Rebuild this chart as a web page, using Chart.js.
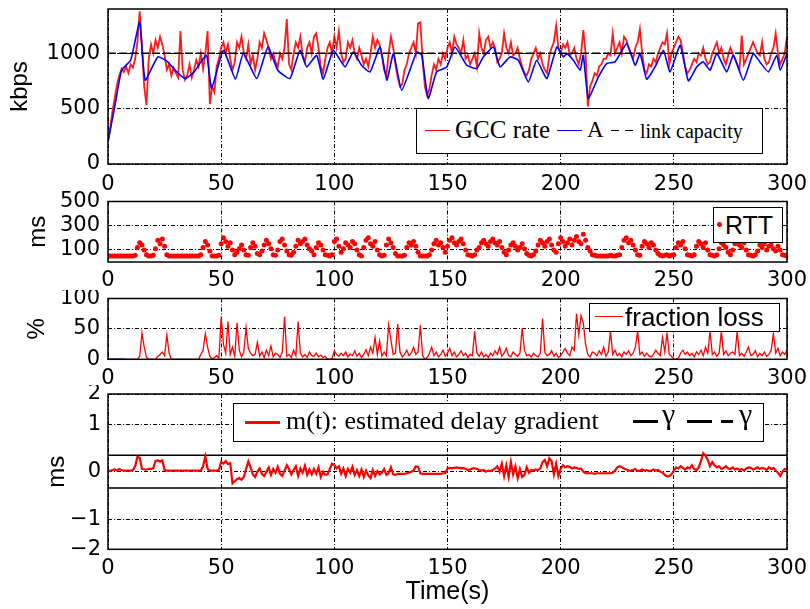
<!DOCTYPE html>
<html>
<head>
<meta charset="utf-8">
<script src="https://cdn.jsdelivr.net/npm/chart.js"></script>
<style>
  body { margin: 0; background: #fff; }
  #fig { position: relative; width: 810px; height: 609px; overflow: hidden; background: #fff; }
  #fig canvas { position: absolute; left: 0; }
  .leg { position: absolute; background: #fff; border: 1.5px solid #000; box-sizing: border-box; }
  .item { position: absolute; white-space: nowrap; line-height: 1; color: #000; }
  .serif { font-family: "Liberation Serif", "Times New Roman", serif; }
  .sans { font-family: "Liberation Sans", Arial, sans-serif; }
  .ln { position: absolute; height: 0; }
</style>
</head>
<body>
<div id="fig">
  <canvas id="c1" width="810" height="200" style="top:0px"></canvas>
  <canvas id="c2" width="810" height="105" style="top:190px"></canvas>
  <canvas id="c3" width="810" height="105" style="top:290px"></canvas>
  <canvas id="c4" width="810" height="224" style="top:385px"></canvas>

  <!-- legend, panel 1 -->
  <div class="leg" style="left:416px;top:108px;width:347px;height:46px"></div>
  <div class="ln" style="left:425px;top:130px;width:25px;border-top:1.5px solid #f00"></div>
  <div class="item serif" style="left:455px;top:116.6px;font-size:25px">GCC rate</div>
  <div class="ln" style="left:557px;top:130px;width:25px;border-top:1.5px solid #00f"></div>
  <div class="item serif" style="left:587px;top:117.7px;font-size:23px">A</div>
  <div class="ln" style="left:611px;top:130px;width:8px;border-top:1.5px solid #000"></div>
  <div class="ln" style="left:625px;top:130px;width:8px;border-top:1.5px solid #000"></div>
  <div class="item serif" style="left:640px;top:121px;font-size:20px">link capacity</div>

  <!-- legend, panel 2 -->
  <div class="leg" style="left:713px;top:207px;width:70px;height:36px"></div>
  <div style="position:absolute;left:716.5px;top:221.5px;width:5px;height:5px;border-radius:50%;background:#f00"></div>
  <div class="item sans" style="left:725px;top:213px;font-size:25px">RTT</div>

  <!-- legend, panel 3 -->
  <div class="leg" style="left:589px;top:303px;width:191px;height:29px"></div>
  <div class="ln" style="left:595px;top:316px;width:28px;border-top:1.5px solid #f00"></div>
  <div class="item sans" style="left:625px;top:304px;font-size:26px">fraction loss</div>

  <!-- legend, panel 4 -->
  <div class="leg" style="left:233px;top:403px;width:531px;height:39px"></div>
  <div class="ln" style="left:245px;top:421px;width:35px;border-top:3px solid #f00"></div>
  <div class="item serif" style="left:286px;top:408px;font-size:26px">m(t): estimated delay gradient</div>
  <div class="ln" style="left:633px;top:420px;width:25px;border-top:3px solid #000"></div>
  <div class="item serif" style="left:662px;top:399.4px;font-size:30px">γ</div>
  <div class="ln" style="left:687px;top:420px;width:25px;border-top:3px solid #000"></div>
  <div class="ln" style="left:721px;top:420px;width:12px;border-top:3px solid #000"></div>
  <div class="item serif" style="left:739px;top:399.4px;font-size:30px">γ</div>
</div>

<script>
// x axis ticks shared by the four panels
const xTicks = [0, 50, 100, 150, 200, 250, 300];

// panel 1: sending rate (kbps), one GCC sample per second, t = 0..300
const gccRate = [
  200, 330, 480, 600, 720, 800, 860, 830, 880, 820,
  900, 870, 950, 1100, 1380, 1050, 700, 530, 950, 1080,
  1000, 1120, 1050, 1150, 1080, 980, 850, 900, 800, 870,
  820, 780, 1200, 850, 760, 800, 900, 780, 850, 940,
  880, 1000, 860, 1000, 1200, 540, 700, 650, 880, 950,
  1050, 1100, 1000, 1080, 950, 850, 920, 1100, 1050, 1150,
  1000, 950, 1080, 900, 980, 850, 950, 1100, 1050, 1180,
  1120, 1050, 950, 1000, 920, 880, 1000, 950, 1050, 1310,
  900, 850, 1000, 1100, 1050, 1150, 980, 920, 1050, 1100,
  1000, 1150, 1180, 1050, 880, 820, 950, 1050, 1100, 1000,
  1150, 1050, 1200, 1000, 920, 950, 1100, 1050, 1120, 1000,
  950, 1050, 980, 900, 950, 880, 1000, 1150, 1050, 1120,
  1080, 980, 850, 800, 1000, 1150, 1050, 900, 780, 700,
  720, 850, 900, 1000, 1050, 1100, 1000, 1270, 1280, 950,
  700, 620, 680, 800, 900, 850, 950, 900, 1000, 950,
  1050, 1100, 1000, 1150, 1080, 1050, 1000, 1120, 950, 980,
  900, 950, 1000, 880, 1180, 1050, 1000, 1120, 1150, 1050,
  1100, 1050, 920, 950, 1000, 1180, 1050, 1000, 1100, 980,
  1000, 1050, 950, 880, 820, 800, 850, 950, 1000, 1050,
  950, 1000, 900, 850, 820, 980, 1050, 1100, 1250, 1050,
  1000, 1080, 1050, 1100, 980, 1000, 1050, 950, 900, 1000,
  1210, 1000, 520, 700, 750, 820, 800, 880, 900, 950,
  950, 1000, 980, 1180, 1000, 1050, 1100, 1000, 1150, 1120,
  1050, 1000, 950, 1050, 1100, 1220, 1000, 850, 820, 900,
  880, 950, 920, 1000, 1050, 1100, 1080, 1180, 900, 1000,
  1050, 1100, 1150, 1120, 1000, 880, 820, 850, 900, 950,
  920, 1000, 980, 1050, 950, 900, 920, 1000, 1050, 1100,
  1000, 1050, 950, 900, 980, 1050, 1000, 950, 900, 850,
  1160, 900, 950, 1000, 1050, 1100, 1050, 1000, 980, 1100,
  950, 900, 920, 1000, 1050, 1180, 1000, 900, 950, 1000,
  1150
];

// panel 1: A, the rate of the delay based controller (irregular times)
const aTime = [
  0, 3, 6, 10, 14, 16.4, 22, 26, 30, 34, 38, 41, 43.6, 45.8, 51, 56.3, 59.8, 65.7,
  70.7, 75, 80.4, 84.8, 87.8, 92.2, 95.1, 99.6, 104.7, 108.4, 112, 115.8, 120.2,
  123.2, 126.1, 129.8, 136.4, 138.6, 141.5, 145.2, 149.7, 153.3, 158.5, 162.9,
  165.8, 170.3, 173.2, 177.6, 181.3, 185.7, 189.4, 193.9, 198.3, 201.2, 202.7,
  205.6, 208.6, 210, 212.2, 216.7, 220.3, 224, 229.2, 232.9, 235.1, 238, 241.7,
  245.4, 248.3, 252.8, 256.4, 260.1, 263, 266, 269, 273.4, 276.3, 280.7, 285.1,
  288, 291.8, 295.5, 297, 300
];
const aRate = [
  200, 520, 847, 937, 1282, 757, 967, 930, 840, 772, 830, 920, 982, 685, 1027, 766, 1000, 772,
  1057, 847, 772, 1027, 877, 982, 766, 1027, 877, 1012, 892, 832, 1057,
  757, 997, 667, 1012, 982, 592, 832, 877, 1057, 892, 862,
  967, 1057, 877, 967, 937, 742, 937, 772, 1057, 967, 997,
  937, 847, 982, 592, 787, 907, 922, 1087, 892, 997, 766, 877,
  1027, 832, 1072, 751, 877, 922, 847, 997, 832, 982, 757, 997,
  922, 832, 982, 847, 997
];

// panel 1: link capacity
const capTime = [0, 300];
const capRate = [1000, 1000];

// panel 2: RTT (ms), one sample per second
const rtt = [
  50, 50, 50, 50, 50, 50, 50, 50, 50, 50,
  50, 50, 55, 120, 160, 140, 100, 60, 50, 50,
  55, 110, 180, 150, 190, 130, 60, 50, 50, 50,
  50, 50, 50, 50, 50, 50, 50, 50, 50, 50,
  50, 60, 120, 170, 140, 90, 50, 50, 50, 55,
  150, 200, 170, 130, 160, 100, 60, 80, 110, 140,
  100, 60, 55, 120, 160, 130, 70, 60, 90, 140,
  180, 150, 110, 60, 55, 100, 170, 190, 140, 90,
  60, 55, 80, 130, 180, 150, 170, 190, 140, 110,
  90, 60, 120, 160, 140, 100, 60, 55, 50, 60,
  170, 190, 130, 80, 110, 160, 140, 120, 170, 150,
  100, 60, 50, 120, 180, 200, 150, 130, 170, 100,
  60, 50, 55, 140, 190, 160, 120, 70, 50, 50,
  50, 55, 120, 160, 140, 170, 130, 80, 50, 50,
  50, 50, 60, 100, 150, 180, 140, 160, 120, 80,
  130, 180, 200, 160, 140, 170, 190, 150, 100, 60,
  55, 50, 60, 100, 120, 160, 180, 150, 130, 170,
  190, 160, 140, 170, 120, 80, 60, 100, 140, 160,
  130, 100, 120, 150, 110, 70, 55, 50, 60, 90,
  140, 180, 160, 130, 170, 190, 140, 100, 80, 150,
  200, 170, 130, 160, 190, 140, 180, 210, 170, 150,
  230, 180, 120, 90, 60, 55, 50, 50, 50, 50,
  50, 50, 55, 50, 50, 55, 60, 120, 180, 200,
  160, 180, 140, 100, 60, 55, 130, 170, 150, 120,
  160, 140, 100, 70, 55, 50, 55, 60, 50, 55,
  60, 120, 160, 140, 170, 110, 60, 55, 50, 60,
  130, 170, 150, 120, 160, 100, 60, 55, 50, 60,
  110, 160, 140, 120, 80, 60, 100, 150, 170, 140,
  120, 160, 100, 60, 55, 50, 60, 90, 140, 120,
  150, 100, 130, 140, 110, 90, 130, 100, 60, 55,
  50
];

// panel 3: fraction loss (%), one sample per second
const lossPct = [
  0, 0, 0, 0, 0, 0, 0, 0, 0, 0,
  0, 0, 0, 0, 5, 43, 20, 3, 0, 0,
  0, 0, 5, 8, 12, 6, 40, 10, 0, 0,
  0, 0, 0, 0, 0, 0, 0, 0, 0, 0,
  0, 8, 15, 42, 20, 5, 0, 3, 6, 2,
  70, 25, 10, 62, 8, 20, 5, 60, 15, 4,
  12, 52, 18, 10, 6, 8, 28, 5, 12, 3,
  15, 6, 22, 4, 10, 8, 3, 12, 70, 5,
  8, 3, 15, 6, 62, 10, 4, 8, 3, 12,
  6, 5, 10, 4, 7, 3, 5, 0, 0, 2,
  14, 8, 5, 10, 6, 12, 4, 9, 6, 14,
  5, 10, 3, 8, 16, 6, 20, 10, 36, 8,
  30, 5, 12, 6, 56, 32, 8, 10, 58, 12,
  4, 8, 15, 6, 10, 20, 8, 12, 56, 6,
  0, 3, 10, 20, 6, 12, 4, 8, 15, 5,
  10, 18, 6, 12, 4, 8, 14, 6, 10, 3,
  8, 6, 46, 10, 5, 12, 4, 8, 3, 10,
  6, 14, 8, 20, 5, 10, 18, 6, 4, 12,
  8, 5, 10, 51, 15, 6, 8, 4, 10, 6,
  4, 10, 67, 12, 6, 8, 14, 5, 10, 3,
  6, 12, 18, 10, 6, 20, 15, 75, 40, 72,
  60, 25, 8, 4, 12, 10, 6, 14, 8, 20,
  5, 12, 46, 8, 15, 6, 10, 4, 12, 8,
  14, 6, 10, 20, 46, 8, 12, 5, 10, 6,
  4, 8, 15, 10, 6, 36, 12, 43, 8, 5,
  0, 0, 2, 10, 15, 8, 12, 6, 10, 4,
  12, 8, 15, 6, 20, 10, 46, 8, 12, 5,
  10, 46, 8, 14, 6, 10, 12, 8, 46, 6,
  10, 5, 12, 20, 6, 8, 14, 4, 10, 6,
  12, 5, 8, 15, 42, 10, 18, 6, 12, 8,
  15
];
// short blue trace at the start of panel 3
const lossBlueTime = [0, 8];
const lossBlueVal = [0, 0];

// panel 4: m(t), estimated delay gradient (ms), one sample per second
const mGrad = [
  0.02, 0.01, 0.03, 0.04, 0.02, 0.05, 0.03, 0.02, 0.02, 0.02,
  0.02, 0.03, 0.10, 0.28, 0.26, 0.05, 0.04, 0.04, 0.05, 0.05,
  0.06, 0.20, 0.21, 0.19, 0.21, 0.03, 0.02, 0.02, 0.02, 0.02,
  0.02, 0.02, 0.02, 0.02, 0.02, 0.02, 0.02, 0.02, 0.02, 0.02,
  0.02, 0.02, 0.10, 0.29, 0.05, 0.02, 0.02, 0.02, 0.02, 0.03,
  0.18, 0.15, 0.20, 0.14, 0.16, -0.22, -0.18, -0.14, -0.12, -0.15,
  -0.10, 0.05, 0.19, 0.08, -0.05, -0.10, 0.00, 0.06, -0.04, -0.08,
  0.00, 0.08, -0.06, 0.05, -0.02, 0.09, -0.04, -0.08, 0.02, 0.12,
  0.05, -0.05, 0.03, 0.10, -0.08, 0.06, -0.02, 0.11, -0.06, 0.04,
  -0.05, 0.05, -0.04, 0.08, -0.10, 0.00, -0.06, -0.05, 0.05, 0.15,
  0.12, 0.06, 0.10, -0.04, 0.06, -0.08, 0.05, -0.02, 0.09, -0.06,
  0.03, -0.08, 0.04, -0.10, 0.02, -0.07, -0.12, 0.03, -0.08, 0.01,
  -0.05, -0.02, 0.05, -0.06, -0.03, 0.08, -0.05, -0.06, -0.04, -0.04,
  -0.04, -0.04, -0.03, -0.02, 0.00, 0.02, 0.10, 0.09, -0.03, -0.04,
  -0.04, -0.04, -0.04, -0.04, -0.04, -0.04, -0.04, -0.04, -0.03, -0.03,
  0.06, 0.07, 0.06, 0.07, 0.08, 0.07, 0.06, 0.07, 0.05, 0.03,
  0.04, 0.06, 0.06, 0.05, 0.03, 0.02, 0.03, 0.00, 0.02, 0.01,
  0.03, 0.06, 0.10, 0.00, 0.15, -0.08, 0.12, -0.10, 0.18, -0.05,
  0.10, -0.12, 0.05, -0.10, -0.06, 0.08, -0.02, 0.03, 0.02, 0.04,
  0.03, 0.06, 0.18, 0.22, 0.10, 0.25, 0.20, -0.05, 0.15, -0.08,
  0.05, 0.12, 0.08, 0.10, 0.09, 0.06, 0.08, 0.07, 0.05, 0.06,
  0.00, -0.03, -0.03, -0.03, -0.03, -0.04, -0.03, -0.03, -0.03, -0.03,
  -0.03, -0.03, -0.03, -0.02, 0.02, 0.08, 0.10, 0.08, 0.06, 0.04,
  0.02, 0.02, 0.03, 0.05, 0.01, 0.02, 0.04, 0.02, 0.03, 0.01,
  0.02, 0.04, 0.02, 0.03, 0.00, -0.02, -0.06, -0.09, -0.08, -0.05,
  0.02, 0.08, 0.06, 0.10, 0.07, 0.04, 0.08, 0.06, 0.12, 0.05,
  0.03, 0.08, 0.20, 0.35, 0.30, 0.22, 0.10, 0.18, 0.12, 0.08,
  0.10, 0.05, 0.07, 0.10, 0.06, 0.05, 0.08, 0.04, 0.06, 0.03,
  0.05, 0.02, 0.06, 0.08, 0.07, 0.04, 0.06, 0.08, 0.05, 0.07,
  0.06, 0.03, 0.08, 0.05, 0.07, 0.02, -0.02, -0.08, 0.00, 0.05,
  0.04
];
// panel 4: thresholds +gamma / -gamma
const gammaTime = [0, 300];
const gammaVal = [0.31, 0.31];
const gammaNeg = [-0.31, -0.31];
// panel 4 y ticks (ms); the axis is compressed away from zero
const mTicks = [-2, -1, 0, 1, 2];

const tickFont = { family: 'DejaVu Sans', size: 21 };
const titleFont = { family: 'Liberation Sans', size: 24 };

function pts(xs, ys, f) {
  return xs.map((x, i) => ({ x: x, y: f ? f(ys[i]) : ys[i] }));
}
function perSecond(ys, f) {
  return ys.map((y, i) => ({ x: i, y: f ? f(y) : y }));
}

// frame around the plot area (matlab "box on")
const boxPlugin = {
  id: 'box',
  afterDatasetsDraw(chart) {
    const a = chart.chartArea;
    const ctx = chart.ctx;
    ctx.save();
    ctx.strokeStyle = '#000';
    ctx.lineWidth = 1.5;
    ctx.strokeRect(a.left, a.top, a.right - a.left, a.bottom - a.top);
    ctx.restore();
  }
};

function makePanel(id, cfg) {
  return new Chart(document.getElementById(id), {
    type: 'line',
    data: { datasets: cfg.datasets },
    options: {
      responsive: false,
      animation: false,
      events: [],
      layout: { padding: { left: 0, right: 23, top: cfg.top, bottom: 0 } },
      plugins: { legend: { display: false }, tooltip: { enabled: false } },
      elements: { point: { radius: 0 }, line: { tension: 0 } },
      scales: {
        x: {
          type: 'linear', min: 0, max: 300,
          afterBuildTicks: s => { s.ticks = xTicks.map(v => ({ value: v })); },
          afterFit: s => { s.height = cfg.axisH; s.paddingLeft = 0; s.paddingRight = 0; },
          grid: { color: '#000', lineWidth: 1, drawTicks: false },
          border: { display: false, dash: [4, 2, 1, 2] },
          ticks: { padding: cfg.xPad, color: '#000', font: tickFont, maxRotation: 0 },
          title: cfg.xTitle || { display: false }
        },
        y: {
          type: 'linear', min: cfg.yMin, max: cfg.yMax,
          afterBuildTicks: s => { s.ticks = cfg.yTicks.map(v => ({ value: v })); },
          afterFit: s => { s.width = 108; s.paddingTop = 0; s.paddingBottom = 0; },
          grid: { color: '#000', lineWidth: 1, drawTicks: false },
          border: { display: false, dash: [4, 2, 1, 2] },
          ticks: {
            padding: cfg.yPad, color: '#000', font: tickFont,
            callback: cfg.yLabel || (v => String(v))
          },
          title: {
            display: true, text: cfg.yTitle, color: '#000', font: titleFont,
            padding: { top: cfg.yTitlePad, bottom: 0 }
          }
        }
      }
    },
    plugins: [boxPlugin]
  });
}

// panel 1 - rates
makePanel('c1', {
  top: 9, axisH: 36, xPad: 8, yPad: 8,
  yMin: 0, yMax: 1400, yTicks: [0, 500, 1000],
  yTitle: 'kbps', yTitlePad: 6,
  datasets: [
    { data: pts(capTime, capRate), borderColor: '#000', borderWidth: 1.5, borderDash: [8, 3] },
    { data: pts(aTime, aRate), borderColor: '#0000ff', borderWidth: 1.6, tension: 0.15 },
    { data: perSecond(gccRate), borderColor: 'rgba(255,0,0,0.9)', borderWidth: 1.8 }
  ]
});

// panel 2 - RTT
makePanel('c2', {
  top: 11.5, axisH: 33, xPad: 6, yPad: 8,
  yMin: 0, yMax: 500, yTicks: [100, 300, 500],
  yTitle: 'ms', yTitlePad: 23.6,
  datasets: [
    { data: perSecond(rtt), showLine: false, pointRadius: 2.5, pointBorderWidth: 0,
      pointBackgroundColor: '#ff0000', borderColor: '#ff0000' }
  ]
});

// panel 3 - fraction loss
makePanel('c3', {
  top: 8.5, axisH: 35.7, xPad: 6.5, yPad: 8,
  yMin: 0, yMax: 100, yTicks: [0, 50, 100],
  yTitle: '%', yTitlePad: 23,
  datasets: [
    { data: pts(lossBlueTime, lossBlueVal), borderColor: '#0000ff', borderWidth: 1.5 },
    { data: perSecond(lossPct), borderColor: '#ff0000', borderWidth: 1.3 }
  ]
});

// panel 4 - delay gradient, values shown on an asinh-compressed axis
makePanel('c4', {
  top: 9, axisH: 59.7, xPad: 7, yPad: 7,
  yMin: -Math.asinh(2), yMax: Math.asinh(2), yTicks: mTicks.map(Math.asinh),
  yLabel: v => {
    const n = Math.round(Math.sinh(v));
    return n < 0 ? '\u2212' + (-n) : String(n);
  },
  yTitle: 'ms', yTitlePad: 42.6,
  xTitle: {
    display: true, text: 'Time(s)', color: '#000',
    font: { family: 'Liberation Sans', size: 25 }, padding: { top: 0, bottom: 2 }
  },
  datasets: [
    { data: perSecond(mGrad, Math.asinh), borderColor: '#ff0000', borderWidth: 2.2 },
    { data: pts(gammaTime, gammaVal, Math.asinh), borderColor: '#000', borderWidth: 1.5 },
    { data: pts(gammaTime, gammaNeg, Math.asinh), borderColor: '#000', borderWidth: 1.5 }
  ]
});
</script>
</body>
</html>
